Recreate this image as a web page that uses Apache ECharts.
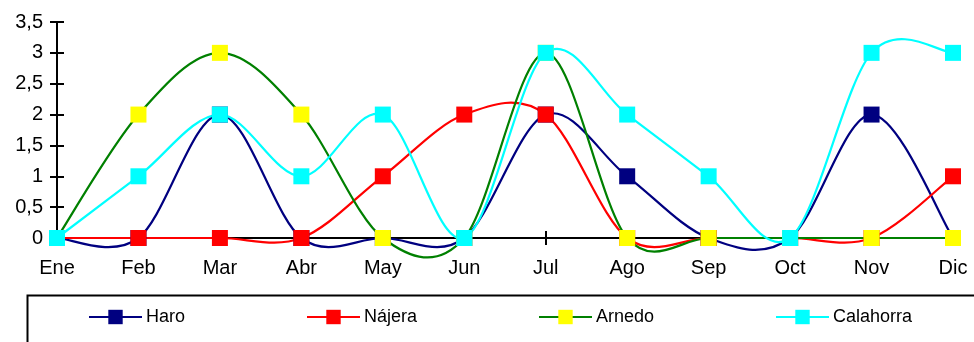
<!DOCTYPE html>
<html><head><meta charset="utf-8">
<script src="https://cdn.jsdelivr.net/npm/echarts@6/dist/echarts.min.js"></script>
<style>html,body{margin:0;padding:0;background:#fff}#c{width:974px;height:342px}</style>
</head><body><div id="c"></div>
<script>
const categories = ['Ene','Feb','Mar','Abr','May','Jun','Jul','Ago','Sep','Oct','Nov','Dic'];
const haro      = [0,0,2,0,0,0,2,1,0,0,2,0];
const najera    = [0,0,0,0,1,2,2,0,0,0,0,1];
const arnedo    = [0,2,3,2,0,0,3,0,0,0,0,0];
const calahorra = [0,1,2,1,2,0,3,2,1,0,3,3];
const seriesNames = ['Haro','Nájera','Arnedo','Calahorra'];
const yTicks = [0,0.5,1,1.5,2,2.5,3,3.5];

const lineColors = ['#000080','#ff0000','#008000','#00ffff'];
const markColors = ['#000080','#ff0000','#ffff00','#00ffff'];
const dataSets = [haro, najera, arnedo, calahorra];
const font = 'Liberation Sans, Arial, sans-serif';

const chart = echarts.init(document.getElementById('c'), null, {renderer:'canvas'});
const grid = {left:57, right:21, top:22, bottom:104};
function xAx(inside, show){
  return {type:'category', data:categories, boundaryGap:false, position:'bottom',
    axisLine:{show:true, onZero:false, lineStyle:{color:'#000', width:2}},
    axisTick:{show:true, inside:inside, length:7, lineStyle:{color:'#000', width:2}},
    axisLabel:{show:show, color:'#000', fontSize:20, fontFamily:font, margin:20},
    splitLine:{show:false}};
}
function yAx(inside, show){
  return {type:'value', position:'left', min:yTicks[0], max:yTicks[yTicks.length-1], interval:0.5,
    axisLine:{show:true, lineStyle:{color:'#000', width:2}},
    axisTick:{show:true, inside:inside, length:7, lineStyle:{color:'#000', width:2}},
    axisLabel:{show:show, color:'#000', fontSize:20, fontFamily:font, margin:14,
      formatter:v=>String(v).replace('.',',')},
    splitLine:{show:false}};
}
// Smooth curve (Catmull-Rom style, like the spreadsheet's smoothed lines)
function smoothRenderer(arr, color){
  return function(params, api){
    const i = params.dataIndex;
    if (i >= arr.length - 1) return null;
    const n = arr.length;
    const P = k => { const kk = Math.max(0, Math.min(n-1, k)); return api.coord([kk, arr[kk]]); };
    const p0 = P(i-1), p1 = P(i), p2 = P(i+1), p3 = P(i+2);
    const t = 6;
    return {type:'bezierCurve',
      shape:{x1:p1[0], y1:p1[1], x2:p2[0], y2:p2[1],
        cpx1:p1[0]+(p2[0]-p0[0])/t, cpy1:p1[1]+(p2[1]-p0[1])/t,
        cpx2:p2[0]-(p3[0]-p1[0])/t, cpy2:p2[1]-(p3[1]-p1[1])/t},
      style:{stroke:color, lineWidth:2.2, fill:null}, silent:true};
  };
}
const legendLefts = [88, 306, 538, 775];
const series = [];
dataSets.forEach((d,i)=>{
  series.push({type:'custom', name:seriesNames[i]+' ', data:d.map((v,k)=>[k,v]),
    encode:{x:0,y:1}, renderItem:smoothRenderer(d, lineColors[i]), z:2, clip:false, silent:true});
});
dataSets.forEach((d,i)=>{
  series.push({name:seriesNames[i], type:'line', data:d,
    symbol:'rect', symbolSize:16, showAllSymbol:true,
    lineStyle:{color:lineColors[i], width:0, opacity:0},
    itemStyle:{color:markColors[i], borderWidth:0},
    z:3+i});
});
chart.setOption({
  animation:false,
  backgroundColor:'#fff',
  grid:grid,
  xAxis:[xAx(false,true), xAx(true,false)],
  yAxis:[yAx(false,true), yAx(true,false)],
  legend: seriesNames.map((n,i)=>({
    data:[n], left:legendLefts[i], top:308, padding:0, itemWidth:53, itemHeight:18, itemGap:4,
    lineStyle:{color:lineColors[i], width:2, opacity:1},
    textStyle:{color:'#000', fontSize:18, fontFamily:font, padding:[0,0,0,-1]},
    selectedMode:false
  })),
  graphic:[{type:'rect', left:25, top:293, shape:{width:962, height:60},
    style:{fill:'none', stroke:'#000', lineWidth:2}, silent:true}],
  series: series
});
</script></body></html>
